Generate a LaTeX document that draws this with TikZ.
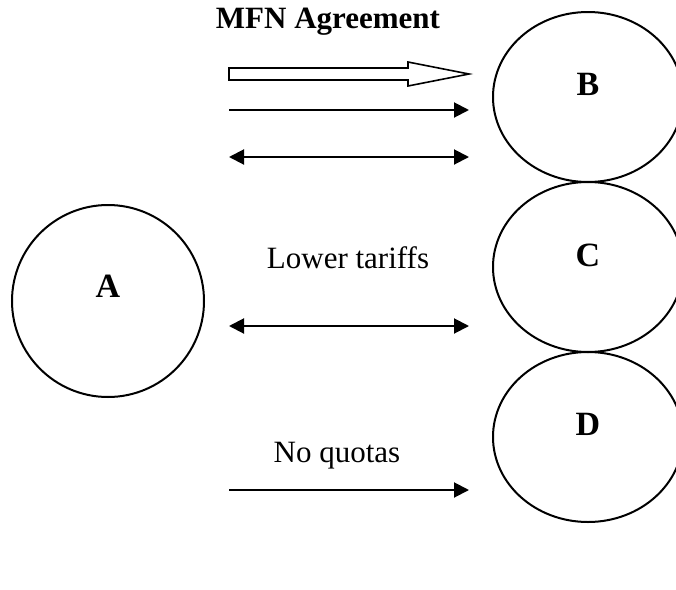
\documentclass[tikz,border=0pt]{standalone}
\usepackage{fontspec}
\setmainfont{Liberation Serif}
\usepackage{tikz}
\usetikzlibrary{arrows.meta}
\usetikzlibrary{shapes.geometric}

\begin{document}
\begin{tikzpicture}[x=0.5pt,y=-0.5pt,line width=1pt,
                    >={Triangle[length=7.5pt,width=7.5pt]},
                    party/.style={ellipse,draw,inner sep=0pt,minimum width=95pt,minimum height=85pt},
                    tag/.style={font=\fontsize{17}{20}\selectfont\bfseries},
                    lbl/.style={anchor=base,font=\fontsize{15.5}{18}\selectfont}]

  \useasboundingbox (0,0) rectangle (676,590);

  % countries
  \node[party,minimum width=96pt,minimum height=96pt,
        label={[tag,yshift=7.5pt]center:A}] (A) at (108,301) {};
  \node[party,label={[tag,yshift=6.5pt]center:B}] (B) at (588,97) {};
  \node[party,label={[tag,yshift=6pt]center:C}] (C) at (588,267) {};
  \node[party,label={[tag,yshift=6.5pt]center:D}] (D) at (588,437) {};

  % texts
  \node[lbl,font=\fontsize{15.5}{18}\selectfont\bfseries] (mfn) at (328,28) {MFN Agreement};
  \node[lbl] (tariffs) at (348,268) {Lower tariffs};
  \node[lbl] (quotas) at (337,462) {No quotas};

  % arrow ends
  \coordinate (b1s) at (229,110);  \coordinate (b1e) at (469,110);
  \coordinate (b2s) at (229,157);  \coordinate (b2e) at (469,157);
  \coordinate (c1s) at (229,326);  \coordinate (c1e) at (469,326);
  \coordinate (d1s) at (229,490);  \coordinate (d1e) at (469,490);

  % hollow arrow
  \draw[line width=0.8pt,line join=miter] (229,68) -- (408,68) -- (408,62) -- (469,74)
        -- (408,86) -- (408,80) -- (229,80) -- cycle;

  \draw[->] (b1s) -- (b1e);
  \draw[<->] (b2s) -- (b2e);
  \draw[<->] (c1s) -- (c1e);
  \draw[->] (d1s) -- (d1e);
\end{tikzpicture}
\end{document}
